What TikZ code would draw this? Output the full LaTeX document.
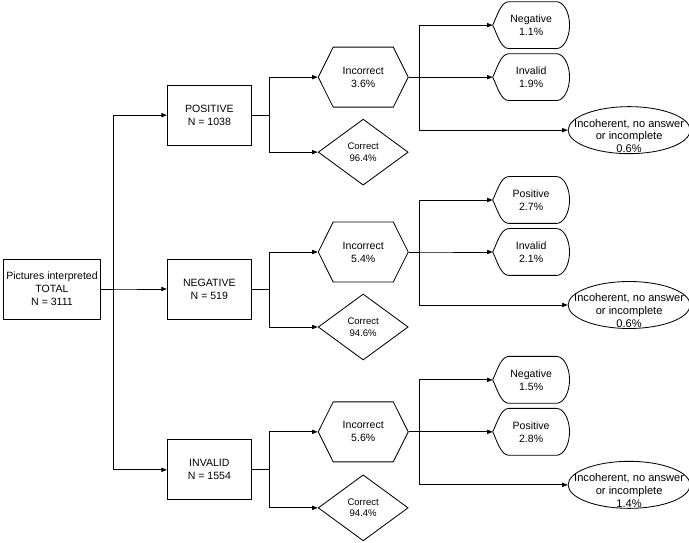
\documentclass[tikz,border=0pt]{standalone}
\usepackage{fontspec}
\setmainfont{Liberation Sans}
\usetikzlibrary{arrows.meta,positioning,calc,shapes.geometric,shapes.symbols}
\newcommand{\lab}{\fontsize{7.5}{9.3}\selectfont}
\newcommand{\slab}{\fontsize{6.8}{8.3}\selectfont}
\newcommand{\elab}{\fontsize{7.9}{9}\selectfont}
\newcommand{\flatlines}[1]{\smash{\raisebox{-7pt}{\makebox[0pt]{\begin{tabular}{@{}c@{}}#1\end{tabular}}}}}
\tikzset{
  flowbox/.style={draw, align=center, font=\lab, minimum width=2.1cm, minimum height=1.5cm, inner sep=1pt},
  hexbox/.style={draw, signal, signal to=west and east, signal pointer angle=127, align=center, font=\lab, minimum width=2.25cm, minimum height=1.5cm, inner sep=1pt},
  corbox/.style={draw, diamond, align=center, font=\slab, minimum width=2.25cm, minimum height=1.65cm, inner sep=0pt},
  outbox/.style={align=center, font=\lab, minimum width=1.9cm, minimum height=1.15cm, inner sep=0pt},
  ellbox/.style={draw, ellipse, font=\elab, minimum width=3.05cm, minimum height=1.175cm, inner sep=0pt},
  flowarrow/.style={-{Triangle[length=4pt,width=3pt]}}
}
\begin{document}
\begin{tikzpicture}[line width=0.6pt]
  \useasboundingbox (0,0) rectangle (17.225,-13.575);

  \node[flowbox, minimum width=2.425cm] (total) at (1.3,-7.225) {Pictures interpreted\\TOTAL\\N = 3111};
  \node[flowbox, right=1.65cm of total] (neg) {NEGATIVE\\N = 519};
  \node[flowbox, above=2.825cm of neg] (pos) {POSITIVE\\N = 1038};
  \node[flowbox, below=3cm of neg] (inv) {INVALID\\N = 1554};

  % positive pictures
  \node[hexbox, right=1.65cm of pos, yshift=0.95cm] (inc1) {Incorrect\\3.6\%};
  \node[corbox, right=1.65cm of pos, yshift=-0.925cm] (cor1) {Correct\\96.4\%};
  \node[outbox, right=2.1cm of inc1, yshift=1.3cm] (out11) {Negative\\1.1\%};
  \node[outbox, right=2.1cm of inc1] (out12) {Invalid\\1.9\%};
  \node[ellbox, right=3.975cm of inc1, yshift=-1.325cm] (ell1) {\flatlines{Incoherent, no answer\\or incomplete\\0.6\%}};

  % negative pictures
  \node[hexbox, right=1.65cm of neg, yshift=0.925cm] (inc2) {Incorrect\\5.4\%};
  \node[corbox, right=1.65cm of neg, yshift=-0.95cm] (cor2) {Correct\\94.6\%};
  \node[outbox, right=2.1cm of inc2, yshift=1.3cm] (out21) {Positive\\2.7\%};
  \node[outbox, right=2.1cm of inc2] (out22) {Invalid\\2.1\%};
  \node[ellbox, right=3.975cm of inc2, yshift=-1.325cm] (ell2) {\flatlines{Incoherent, no answer\\or incomplete\\0.6\%}};

  % invalid pictures
  \node[hexbox, right=1.65cm of inv, yshift=0.95cm] (inc3) {Incorrect\\5.6\%};
  \node[corbox, right=1.65cm of inv, yshift=-0.95cm] (cor3) {Correct\\94.4\%};
  \node[outbox, right=2.1cm of inc3, yshift=1.3cm] (out31) {Negative\\1.5\%};
  \node[outbox, right=2.1cm of inc3] (out32) {Positive\\2.8\%};
  \node[ellbox, right=3.975cm of inc3, yshift=-1.325cm] (ell3) {\flatlines{Incoherent, no answer\\or incomplete\\1.4\%}};

  % display outlines
  \foreach \o in {out11,out12,out21,out22,out31,out32}
    \draw (\o.west) .. controls ($(\o.west)+(0.1,0.2)$) and ($(\o.north west)+(0.2,0)$) .. ($(\o.north west)+(0.4,0)$)
      -- ($(\o.north east)+(-0.325,0)$) .. controls ($(\o.north east)+(-0.15,0)$) and ($(\o.east)+(0,0.32)$) .. (\o.east)
      .. controls ($(\o.east)+(0,-0.32)$) and ($(\o.south east)+(-0.15,0)$) .. ($(\o.south east)+(-0.325,0)$)
      -- ($(\o.south west)+(0.4,0)$) .. controls ($(\o.south west)+(0.2,0)$) and ($(\o.west)+(0.1,-0.2)$) .. (\o.west);

  \foreach \grp/\inc/\cor/\oa/\ob/\oc in {pos/inc1/cor1/out11/out12/ell1, neg/inc2/cor2/out21/out22/ell2, inv/inc3/cor3/out31/out32/ell3} {
    \draw[flowarrow] (total.east) -- ++(0.3,0) |- (\grp.west);
    \draw[flowarrow] (\grp.east) -- ++(0.45,0) |- (\inc.west);
    \draw[flowarrow] (\grp.east) -- ++(0.45,0) |- (\cor.west);
    \draw[flowarrow] (\inc.east) -- ++(0.275,0) |- (\oa.west);
    \draw[flowarrow] (\inc.east) -- ++(0.275,0) |- (\ob.west);
    \draw[flowarrow] (\inc.east) -- ++(0.275,0) |- (\oc.west);
  }
\end{tikzpicture}
\end{document}
